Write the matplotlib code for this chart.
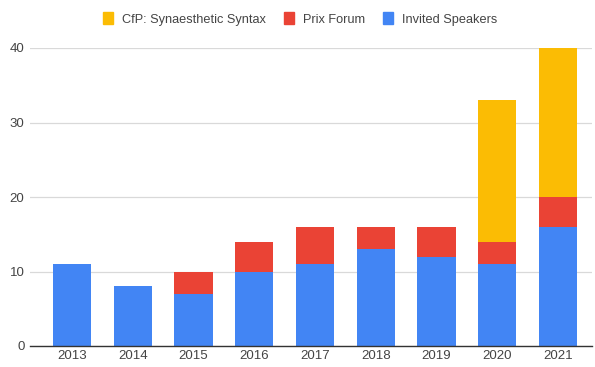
import matplotlib
matplotlib.use("Agg")
import matplotlib.pyplot as plt
import numpy as np
from matplotlib.patches import Patch

years = ["2013", "2014", "2015", "2016", "2017", "2018", "2019", "2020", "2021"]
invited = [11, 8, 7, 10, 11, 13, 12, 11, 16]
prix = [0, 0, 3, 4, 5, 3, 4, 3, 4]
cfp = [0, 0, 0, 0, 0, 0, 0, 19, 20]

BLUE = "#4285F4"
RED = "#EA4335"
YELLOW = "#FBBC04"

plt.rcParams["font.family"] = ["Liberation Sans", "DejaVu Sans"]

fig = plt.figure(figsize=(5.95, 3.67), dpi=100)
ax = fig.add_axes([30 / 595, 21 / 367, 562 / 595, 298 / 367])

x = np.arange(len(years))
w = 0.63
inv = np.array(invited)
pf = np.array(prix)
ax.bar(x, inv, w, color=BLUE, zorder=2)
ax.bar(x, pf, w, bottom=inv, color=RED, zorder=2)
ax.bar(x, cfp, w, bottom=inv + pf, color=YELLOW, zorder=2)

ax.set_xlim(-0.69, 8.56)
ax.set_ylim(0, 40)
ax.set_yticks([0, 10, 20, 30, 40])
ax.set_xticks(x)
ax.set_xticklabels(years)
ax.tick_params(axis="both", length=0, labelsize=9.5, colors="#444444")
ax.tick_params(axis="y", pad=4)
ax.tick_params(axis="x", pad=3)
ax.grid(axis="y", color="#d9d9d9", linewidth=0.9, zorder=0)
for s in ["top", "right", "left"]:
    ax.spines[s].set_visible(False)
ax.spines["bottom"].set_color("#333333")
ax.spines["bottom"].set_linewidth(1.0)
ax.spines["bottom"].set_zorder(3)

handles = [Patch(color=YELLOW, label="CfP: Synaesthetic Syntax"),
           Patch(color=RED, label="Prix Forum"),
           Patch(color=BLUE, label="Invited Speakers")]
fig.legend(handles=handles, loc="center", bbox_to_anchor=(300 / 595, 1 - 19 / 367),
           ncol=3, frameon=False, fontsize=9.2, handlelength=0.8, handleheight=1.0,
           handletextpad=0.7, columnspacing=1.4, labelcolor="#444444")

fig.savefig("out.png", dpi=100)
